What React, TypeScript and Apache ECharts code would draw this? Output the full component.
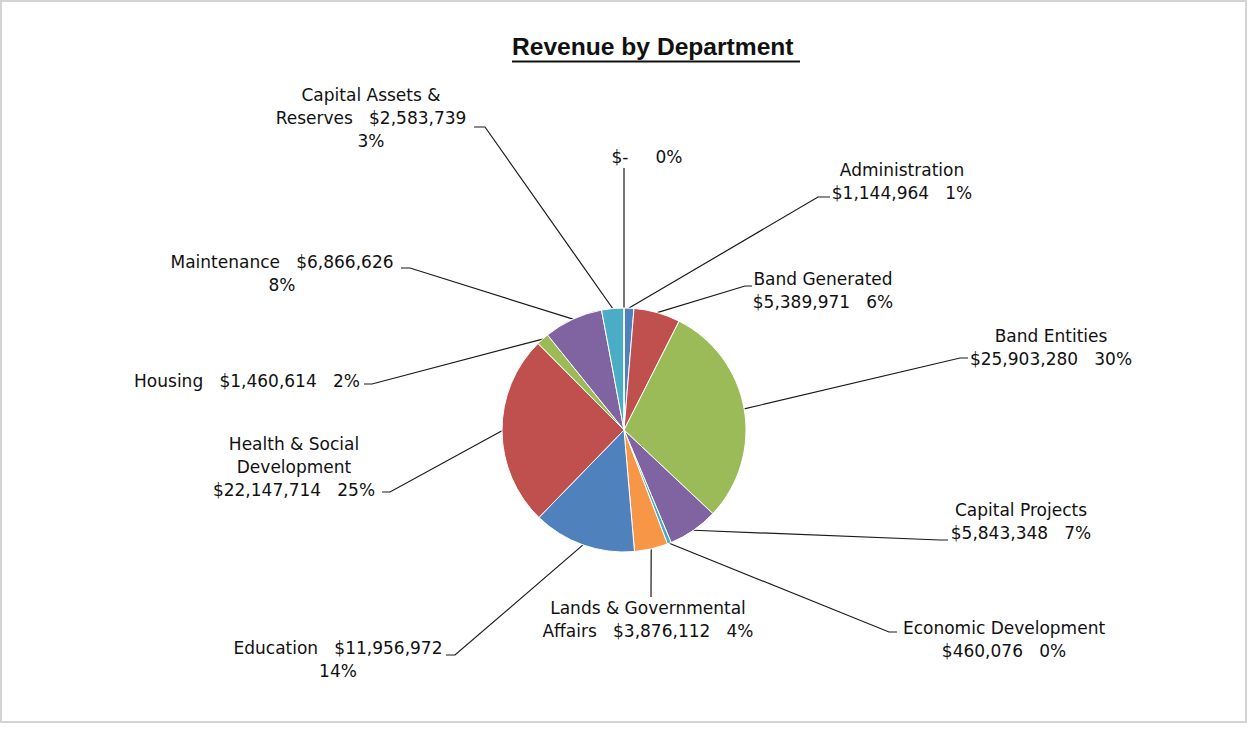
import React, { useEffect, useRef } from 'react';
import * as echarts from 'echarts';

// Departments in clockwise order, starting at twelve o'clock
const DEPARTMENTS = [
  'Administration',
  'Band Generated',
  'Band Entities',
  'Capital Projects',
  'Economic Development',
  'Lands & Governmental Affairs',
  'Education',
  'Health & Social Development',
  'Housing',
  'Maintenance',
  'Capital Assets & Reserves',
  '',
];
const REVENUE = [
  1144964, 5389971, 25903280, 5843348, 460076, 3876112, 11956972, 22147714, 1460614, 6866626,
  2583739, 0,
];
const SHARE_LABELS = ['1%', '6%', '30%', '7%', '0%', '4%', '14%', '25%', '2%', '8%', '3%', '0%'];

const SLICE_COLORS = [
  '#4F81BD', '#C0504D', '#9BBB59', '#8064A2', '#4BACC6', '#F79646',
  '#4F81BD', '#C0504D', '#9BBB59', '#8064A2', '#4BACC6', '#F79646',
];

// Label text arrangement ({n} name, {v} amount, {p} share)
const LABEL_TEMPLATES = [
  '{n}\n{v}   {p}',
  '{n}\n{v}   {p}',
  '{n}\n{v}   {p}',
  '{n}\n{v}   {p}',
  '{n}\n{v}   {p}',
  '{n}   {v}   {p}',
  '{n}   {v}\n{p}',
  '{n}\n{v}   {p}',
  '{n}   {v}   {p}',
  '{n}   {v}\n{p}',
  '{n}   {v}\n{p}',
  '{v}     {p}',
];
const NAME_WRAP: Record<string, string> = {
  'Lands & Governmental Affairs': 'Lands & Governmental\nAffairs',
  'Health & Social Development': 'Health & Social\nDevelopment',
  'Capital Assets & Reserves': 'Capital Assets &\nReserves',
};

// Label block centres and leader-line bends
const LABEL_POS: [number, number][] = [
  [902, 181], [823, 290], [1051, 347], [1021, 521], [1004, 639], [648, 619],
  [338, 659], [294, 467], [247, 381], [282, 273], [371, 118], [647, 157],
];
const LEADER_BENDS: [number, number][][] = [
  [[818, 197], [830, 197]],
  [[745, 286], [752, 286]],
  [[960, 358], [968, 358]],
  [[940, 540], [948, 540]],
  [[889, 632], [897, 632]],
  [[651, 596], [651, 597]],
  [[455, 655], [446, 655]],
  [[390, 492], [382, 492]],
  [[372, 384], [364, 384]],
  [[410, 268], [401, 268]],
  [[485, 127], [474, 127]],
  [[624, 168], [624, 168]],
];

const CX = 624;
const CY = 430;
const R = 122;

const formatMoney = (v: number) => (v === 0 ? '$-' : '$' + v.toLocaleString('en-US'));

function sliceEdge(i: number): [number, number] {
  const total = REVENUE.reduce((a, b) => a + b, 0);
  let before = 0;
  for (let k = 0; k < i; k++) before += REVENUE[k];
  const theta = (2 * Math.PI * (before + REVENUE[i] / 2)) / total;
  return [CX + R * Math.sin(theta), CY - R * Math.cos(theta)];
}

export default function App() {
  const ref = useRef<HTMLDivElement>(null);

  useEffect(() => {
    if (!ref.current) return;
    const chart = echarts.init(ref.current, undefined, { renderer: 'svg' });
    const data = DEPARTMENTS.map((name, i) => ({
      name,
      value: REVENUE[i],
      itemStyle: { color: SLICE_COLORS[i] },
    }));

    chart.setOption({
      animation: false,
      backgroundColor: '#ffffff',
      title: {
        text: 'Revenue by Department',
        left: 512,
        top: 34,
        padding: 0,
        textStyle: {
          fontFamily: 'Liberation Sans, Arial, sans-serif',
          fontSize: 24.6,
          fontWeight: 'bold',
          color: '#111',
        },
      },
      graphic: [
        {
          type: 'rect',
          silent: true,
          shape: { x: 1, y: 1, width: 1245, height: 721 },
          style: { fill: 'none', stroke: '#d4d4d4', lineWidth: 2 },
        },
        {
          type: 'line',
          silent: true,
          shape: { x1: 512, y1: 61.5, x2: 800, y2: 61.5 },
          style: { stroke: '#111', lineWidth: 2 },
        },
      ],
      series: [
        {
          type: 'pie',
          center: [CX, CY],
          radius: R,
          startAngle: 90,
          clockwise: true,
          avoidLabelOverlap: false,
          silent: true,
          data,
          itemStyle: { borderColor: '#ffffff', borderWidth: 1 },
          label: {
            show: true,
            position: 'outside',
            fontFamily: 'DejaVu Sans, sans-serif',
            fontSize: 17,
            lineHeight: 23,
            color: '#111',
            formatter: (p: any) => {
              const i = p.dataIndex;
              const name = NAME_WRAP[DEPARTMENTS[i]] || DEPARTMENTS[i];
              return LABEL_TEMPLATES[i]
                .replace('{n}', name)
                .replace('{v}', formatMoney(REVENUE[i]))
                .replace('{p}', SHARE_LABELS[i]);
            },
          },
          labelLine: {
            show: true,
            length: 10,
            length2: 10,
            lineStyle: { color: '#1a1a1a', width: 1.2 },
          },
          labelLayout: (p: any) => {
            const i = p.dataIndex;
            const [lx, ly] = LABEL_POS[i];
            const bends = LEADER_BENDS[i];
            return {
              x: lx,
              y: ly,
              align: 'center',
              verticalAlign: 'middle',
              labelLinePoints: [sliceEdge(i), bends[0], bends[1]],
            };
          },
          emphasis: { disabled: true },
        },
      ],
    });

    return () => chart.dispose();
  }, []);

  return (
    <div
      ref={ref}
      style={{ position: 'absolute', left: 0, top: 0, width: 1248, height: 733, background: '#fff' }}
    />
  );
}
